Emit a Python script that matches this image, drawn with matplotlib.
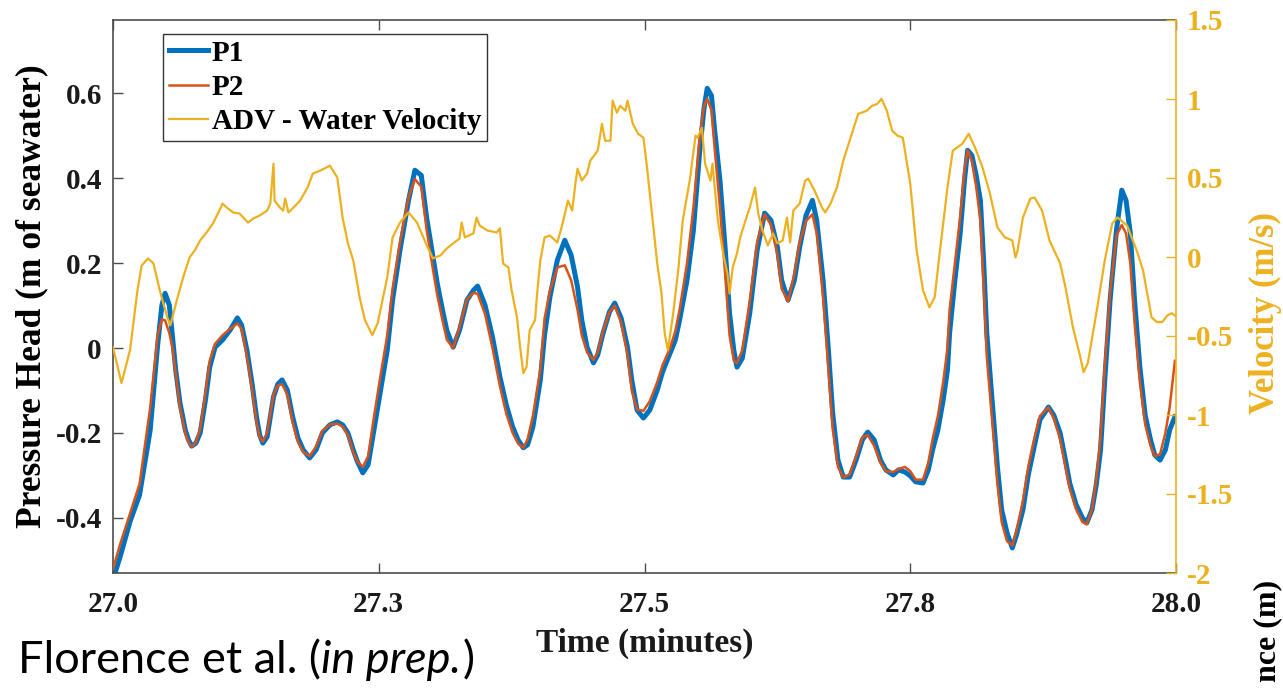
import matplotlib
matplotlib.use("Agg")
import matplotlib.pyplot as plt

# ---------------- data ----------------
t_p = [27.000, 27.007, 27.016, 27.025, 27.035, 27.042, 27.046, 27.049, 27.053, 27.056,
       27.059, 27.063, 27.068, 27.071, 27.074, 27.078, 27.082, 27.087, 27.091, 27.096,
       27.103, 27.110, 27.117, 27.121, 27.126, 27.131, 27.135, 27.138, 27.141, 27.145,
       27.151, 27.155, 27.159, 27.164, 27.169, 27.174, 27.179, 27.185, 27.191, 27.197,
       27.204, 27.211, 27.216, 27.221, 27.226, 27.230, 27.235, 27.240, 27.245, 27.251,
       27.258, 27.263, 27.270, 27.278, 27.284, 27.290, 27.295, 27.300, 27.305, 27.310,
       27.314, 27.320, 27.326, 27.333, 27.339, 27.343, 27.350, 27.357, 27.364, 27.370,
       27.376, 27.381, 27.386, 27.390, 27.395, 27.402, 27.406, 27.411, 27.418, 27.425,
       27.431, 27.437, 27.441, 27.446, 27.452, 27.456, 27.461, 27.467, 27.472, 27.478,
       27.484, 27.488, 27.493, 27.499, 27.505, 27.512, 27.517, 27.524, 27.529, 27.533,
       27.540, 27.546, 27.552, 27.556, 27.559, 27.563, 27.566, 27.571, 27.576, 27.580,
       27.584, 27.587, 27.592, 27.599, 27.606, 27.613, 27.619, 27.625, 27.629, 27.635,
       27.641, 27.646, 27.652, 27.658, 27.662, 27.668, 27.673, 27.677, 27.682, 27.687,
       27.693, 27.699, 27.705, 27.710, 27.716, 27.722, 27.727, 27.734, 27.739, 27.745,
       27.750, 27.755, 27.762, 27.767, 27.771, 27.776, 27.781, 27.785, 27.787, 27.792,
       27.797, 27.801, 27.804, 27.808, 27.812, 27.816, 27.819, 27.822, 27.827, 27.832,
       27.836, 27.841, 27.846, 27.850, 27.856, 27.861, 27.866, 27.872, 27.880, 27.885,
       27.891, 27.896, 27.900, 27.906, 27.912, 27.916, 27.921, 27.925, 27.929, 27.933,
       27.938, 27.944, 27.949, 27.953, 27.957, 27.961, 27.966, 27.971, 27.976, 27.980,
       27.985, 27.990, 27.994, 27.999]

p1 = [-0.546, -0.489, -0.409, -0.346, -0.193, 0.007, 0.101, 0.129, 0.101, 0.026,
      -0.052, -0.129, -0.193, -0.216, -0.231, -0.224, -0.200, -0.122, -0.045, 0.002,
      0.019, 0.042, 0.071, 0.054, -0.005, -0.087, -0.162, -0.205, -0.224, -0.209,
      -0.115, -0.085, -0.075, -0.099, -0.162, -0.212, -0.240, -0.259, -0.240, -0.200,
      -0.181, -0.174, -0.181, -0.200, -0.240, -0.268, -0.294, -0.275, -0.200, -0.111,
      -0.005, 0.113, 0.231, 0.348, 0.419, 0.407, 0.308, 0.231, 0.153, 0.089,
      0.042, 0.002, 0.042, 0.113, 0.136, 0.146, 0.101, 0.026, -0.068, -0.134,
      -0.186, -0.216, -0.235, -0.228, -0.186, -0.075, 0.031, 0.120, 0.207, 0.254,
      0.219, 0.144, 0.066, 0.002, -0.035, -0.016, 0.035, 0.085, 0.106, 0.071,
      0.002, -0.075, -0.146, -0.165, -0.146, -0.099, -0.056, -0.012, 0.019, 0.066,
      0.160, 0.278, 0.466, 0.565, 0.612, 0.595, 0.513, 0.395, 0.231, 0.082,
      -0.005, -0.045, -0.024, 0.082, 0.231, 0.318, 0.301, 0.238, 0.160, 0.113,
      0.160, 0.238, 0.313, 0.348, 0.301, 0.160, -0.005, -0.153, -0.264, -0.304,
      -0.304, -0.264, -0.216, -0.198, -0.216, -0.264, -0.287, -0.299, -0.287, -0.292,
      -0.301, -0.315, -0.318, -0.287, -0.240, -0.193, -0.122, -0.052, 0.035, 0.160,
      0.271, 0.395, 0.466, 0.454, 0.407, 0.348, 0.207, 0.035, -0.122, -0.280,
      -0.381, -0.435, -0.471, -0.440, -0.381, -0.299, -0.240, -0.169, -0.139, -0.158,
      -0.200, -0.264, -0.318, -0.369, -0.400, -0.412, -0.381, -0.322, -0.240, -0.075,
      0.113, 0.278, 0.372, 0.348, 0.271, 0.113, -0.045, -0.158, -0.216, -0.252,
      -0.264, -0.240, -0.193, -0.162]

p2 = [-0.520, -0.460, -0.390, -0.320, -0.140, 0.030, 0.068, 0.065, 0.035, 0.000,
      -0.060, -0.140, -0.200, -0.222, -0.232, -0.222, -0.190, -0.105, -0.030, 0.010,
      0.030, 0.045, 0.058, 0.045, -0.020, -0.100, -0.175, -0.210, -0.220, -0.200,
      -0.110, -0.088, -0.085, -0.110, -0.175, -0.222, -0.245, -0.255, -0.232, -0.195,
      -0.180, -0.178, -0.185, -0.205, -0.245, -0.268, -0.280, -0.255, -0.170, -0.075,
      0.030, 0.140, 0.250, 0.355, 0.398, 0.380, 0.280, 0.200, 0.125, 0.065,
      0.020, 0.000, 0.050, 0.115, 0.130, 0.128, 0.080, 0.000, -0.090, -0.155,
      -0.200, -0.225, -0.235, -0.215, -0.160, -0.050, 0.070, 0.135, 0.190, 0.195,
      0.160, 0.090, 0.030, -0.010, -0.028, -0.010, 0.040, 0.085, 0.100, 0.060,
      -0.015, -0.100, -0.145, -0.148, -0.125, -0.080, -0.040, 0.000, 0.040, 0.090,
      0.200, 0.330, 0.500, 0.570, 0.588, 0.560, 0.470, 0.330, 0.170, 0.030,
      -0.030, -0.035, -0.005, 0.110, 0.250, 0.315, 0.290, 0.220, 0.140, 0.110,
      0.175, 0.250, 0.300, 0.315, 0.270, 0.120, -0.050, -0.190, -0.280, -0.305,
      -0.298, -0.255, -0.210, -0.205, -0.230, -0.270, -0.290, -0.292, -0.285, -0.280,
      -0.290, -0.310, -0.310, -0.270, -0.215, -0.160, -0.080, 0.000, 0.090, 0.200,
      0.310, 0.420, 0.466, 0.440, 0.380, 0.300, 0.150, -0.020, -0.170, -0.320,
      -0.410, -0.455, -0.465, -0.430, -0.360, -0.280, -0.220, -0.160, -0.140, -0.165,
      -0.215, -0.280, -0.330, -0.380, -0.410, -0.415, -0.380, -0.310, -0.210, -0.040,
      0.130, 0.265, 0.290, 0.270, 0.200, 0.060, -0.080, -0.180, -0.230, -0.255,
      -0.250, -0.200, -0.140, -0.030]

t_v = [27.000, 27.008, 27.016, 27.023, 27.027, 27.033, 27.038, 27.044, 27.051, 27.054,
       27.060, 27.066, 27.072, 27.077, 27.082, 27.088, 27.094, 27.101, 27.103, 27.107,
       27.113, 27.119, 27.127, 27.132, 27.138, 27.145, 27.148, 27.151, 27.152, 27.157,
       27.160, 27.162, 27.165, 27.169, 27.176, 27.183, 27.188, 27.195, 27.204, 27.211,
       27.216, 27.221, 27.226, 27.232, 27.237, 27.244, 27.249, 27.258, 27.263, 27.270,
       27.278, 27.286, 27.292, 27.296, 27.301, 27.308, 27.314, 27.320, 27.326, 27.328,
       27.331, 27.339, 27.342, 27.345, 27.352, 27.361, 27.364, 27.367, 27.372, 27.375,
       27.380, 27.383, 27.386, 27.389, 27.392, 27.397, 27.399, 27.402, 27.406, 27.411,
       27.418, 27.422, 27.428, 27.432, 27.435, 27.437, 27.441, 27.446, 27.449, 27.456,
       27.460, 27.463, 27.468, 27.470, 27.474, 27.477, 27.482, 27.484, 27.489, 27.494,
       27.499, 27.502, 27.507, 27.512, 27.516, 27.519, 27.522, 27.527, 27.532, 27.536,
       27.543, 27.548, 27.550, 27.554, 27.557, 27.562, 27.564, 27.569, 27.574, 27.578,
       27.580, 27.583, 27.587, 27.590, 27.595, 27.599, 27.604, 27.607, 27.611, 27.616,
       27.621, 27.625, 27.630, 27.634, 27.637, 27.640, 27.646, 27.651, 27.654, 27.660,
       27.667, 27.670, 27.675, 27.681, 27.687, 27.693, 27.701, 27.709, 27.714, 27.719,
       27.723, 27.728, 27.733, 27.738, 27.743, 27.750, 27.756, 27.762, 27.768, 27.773,
       27.778, 27.785, 27.790, 27.799, 27.805, 27.811, 27.818, 27.825, 27.832, 27.839,
       27.846, 27.849, 27.851, 27.856, 27.863, 27.867, 27.874, 27.881, 27.891, 27.896,
       27.903, 27.910, 27.913, 27.917, 27.926, 27.933, 27.940, 27.945, 27.954, 27.963,
       27.969, 27.977, 27.982, 27.987, 27.992, 27.996, 28.000]

adv = [-0.571, -0.798, -0.590, -0.211, -0.053, -0.009, -0.040, -0.211, -0.381, -0.432,
       -0.274, -0.129, -0.003, 0.042, 0.105, 0.155, 0.212, 0.307, 0.338, 0.313,
       0.282, 0.275, 0.218, 0.244, 0.263, 0.294, 0.338, 0.591, 0.357, 0.313,
       0.294, 0.370, 0.282, 0.307, 0.357, 0.439, 0.528, 0.547, 0.578, 0.503,
       0.250, 0.086, -0.021, -0.255, -0.400, -0.495, -0.419, -0.129, 0.124, 0.218,
       0.282, 0.218, 0.124, 0.061, -0.009, 0.010, 0.054, 0.086, 0.117, 0.218,
       0.124, 0.149, 0.250, 0.199, 0.168, 0.155, 0.181, -0.042, -0.066, -0.211,
       -0.381, -0.571, -0.735, -0.697, -0.463, -0.400, -0.230, -0.021, 0.124, 0.136,
       0.092, 0.187, 0.357, 0.294, 0.465, 0.559, 0.484, 0.528, 0.610, 0.673,
       0.843, 0.736, 0.736, 0.989, 0.913, 0.957, 0.926, 0.989, 0.843, 0.780,
       0.755, 0.591, 0.275, -0.042, -0.230, -0.483, -0.590, -0.357, -0.066, 0.231,
       0.503, 0.768, 0.755, 0.818, 0.591, 0.484, 0.591, 0.231, 0.023, -0.105,
       -0.231, -0.066, 0.023, 0.124, 0.231, 0.313, 0.439, 0.275, 0.168, 0.073,
       0.149, 0.086, 0.105, 0.250, 0.092, 0.294, 0.338, 0.482, 0.496, 0.420,
       0.313, 0.282, 0.338, 0.439, 0.610, 0.736, 0.906, 0.925, 0.957, 0.969,
       1.001, 0.925, 0.799, 0.768, 0.755, 0.465, 0.042, -0.211, -0.318, -0.255,
       0.042, 0.439, 0.673, 0.717, 0.780, 0.692, 0.566, 0.401, 0.187, 0.124,
       0.105, -0.003, 0.042, 0.250, 0.370, 0.376, 0.294, 0.105, -0.040, -0.192,
       -0.444, -0.634, -0.729, -0.672, -0.318, -0.021, 0.212, 0.250, 0.199, 0.042,
       -0.085, -0.381, -0.412, -0.412, -0.369, -0.356, -0.375]

x_ticks = [27.0, 27.25, 27.5, 27.75, 28.0]
x_ticklabels = ["27.0", "27.3", "27.5", "27.8", "28.0"]
yl_ticks = [-0.4, -0.2, 0.0, 0.2, 0.4, 0.6]
yl_ticklabels = ["-0.4", "-0.2", "0", "0.2", "0.4", "0.6"]
yr_ticks = [-2, -1.5, -1, -0.5, 0, 0.5, 1, 1.5]
yr_ticklabels = ["-2", "-1.5", "-1", "-0.5", "0", "0.5", "1", "1.5"]
series_names = ["P1", "P2", "ADV - Water Velocity"]

# ---------------- style ----------------
C_BLUE = "#0072BD"
C_RED = "#D95319"
C_YEL = "#EDB120"
AX_COL = "#4d4d4d"
SERIF = "Liberation Serif"

W, H = 1283, 688
fig = plt.figure(figsize=(W / 100, H / 100), dpi=100)
fig.patch.set_facecolor("white")

L, R, T, B = 113, 1176, 20, 573
ax = fig.add_axes([L / W, (H - B) / H, (R - L) / W, (B - T) / H])
ax2 = ax.twinx()

l1, = ax.plot(t_p, p1, color=C_BLUE, lw=3.6, solid_joinstyle="round", zorder=2)
l2, = ax.plot(t_p, p2, color=C_RED, lw=1.8, solid_joinstyle="round", zorder=3)
l3, = ax2.plot(t_v, adv, color=C_YEL, lw=1.6, solid_joinstyle="round")

ax.set_xlim(27.0, 28.0)
ax.set_ylim(-0.53, 0.773)
ax2.set_ylim(-2, 1.5)

ax.set_xticks(x_ticks)
ax.set_xticklabels(x_ticklabels)
ax.set_yticks(yl_ticks)
ax.set_yticklabels(yl_ticklabels)
ax2.set_yticks(yr_ticks)
ax2.set_yticklabels(yr_ticklabels)

for lab in ax.get_xticklabels() + ax.get_yticklabels():
    lab.set_fontfamily(SERIF); lab.set_fontweight("bold"); lab.set_fontsize(21); lab.set_color("#1a1a1a")
for lab in ax2.get_yticklabels():
    lab.set_fontfamily(SERIF); lab.set_fontweight("bold"); lab.set_fontsize(21); lab.set_color(C_YEL)

ax.tick_params(axis="x", direction="in", length=7, width=1, color=AX_COL, top=True, pad=13)
ax.tick_params(axis="y", direction="in", length=7, width=1, color=AX_COL, pad=8)
ax2.tick_params(axis="y", direction="in", length=7, width=1, color=C_YEL, pad=8)

for s in ["left", "bottom", "top"]:
    ax.spines[s].set_color(AX_COL)
    ax.spines[s].set_linewidth(1.2)
ax.spines["right"].set_visible(False)
for s in ["left", "bottom", "top"]:
    ax2.spines[s].set_visible(False)
ax2.spines["right"].set_color(C_YEL)
ax2.spines["right"].set_linewidth(1.2)

ax.set_xlabel("Time (minutes)", family=SERIF, weight="bold", size=24, color="#1a1a1a")
ax.xaxis.set_label_coords(0.5, -0.0995)
ax.set_ylabel("Pressure Head (m of seawater)", family=SERIF, weight="bold", size=25.5, color="black")
ax.yaxis.set_label_coords(-0.061, 0.5)
ax2.set_ylabel("Velocity (m/s)", family=SERIF, weight="bold", size=25, color=C_YEL)
ax2.yaxis.set_label_coords(1.0686, 0.47)

leg = ax2.legend([l1, l2, l3], series_names, loc="upper left",
                 bbox_to_anchor=(0.047, 0.975), borderaxespad=0,
                 prop=dict(family=SERIF, weight="bold", size=21),
                 frameon=True, fancybox=False, edgecolor="black",
                 handlelength=1.35, handletextpad=0.12, labelspacing=0.25,
                 borderpad=0.2)
leg.get_frame().set_linewidth(1.0)

# partially visible label at the right edge (only its end is shown)
fig.text(1268 / W, (H - 580) / H, "nce (m)", rotation=90, ha="center", va="top",
         family=SERIF, weight="bold", size=23, color="black")

# citation text, with italic part
fig.canvas.draw()
renderer = fig.canvas.get_renderer()
x0 = 18 / W
yb = (H - 673) / H
parts = [("Florence et al. (", "normal"), ("in prep.", "italic"), (")", "normal")]
for txt, style in parts:
    tt = fig.text(x0, yb, txt, ha="left", va="baseline", family="Lato",
                  style=style, size=32.5, color="black")
    bb = tt.get_window_extent(renderer=renderer)
    x0 = bb.x1 / W + (2 / W if style == "italic" else 0)

fig.savefig("out.png", dpi=100)
